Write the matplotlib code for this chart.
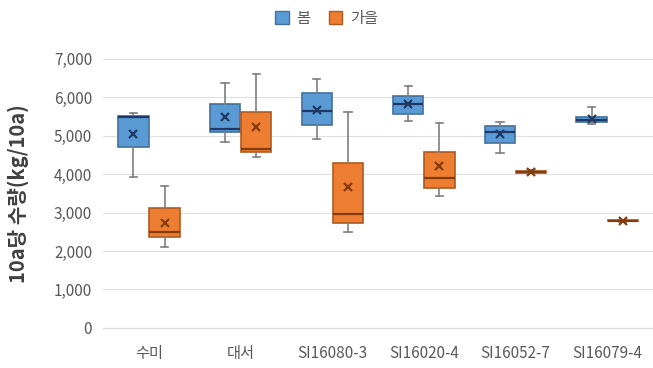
import matplotlib
matplotlib.use('Agg')
import matplotlib.pyplot as plt
from matplotlib.patches import Patch

plt.rcParams['font.family'] = ['Noto Sans CJK KR', 'DejaVu Sans']

varieties = ["수미", "대서", "SI16080-3", "SI16020-4", "SI16052-7", "SI16079-4"]
seasons = ["봄", "가을"]

# five-number summaries (kg/10a) plus mean, per variety
spring_low = [3930, 4840, 4920, 5390, 4560, 5300]
spring_q1 = [4710, 5100, 5290, 5570, 4820, 5350]
spring_med = [5500, 5180, 5650, 5830, 5100, 5420]
spring_q3 = [5520, 5830, 6120, 6040, 5260, 5500]
spring_high = [5600, 6380, 6480, 6300, 5370, 5750]
spring_mean = [5050, 5500, 5680, 5830, 5050, 5430]

autumn_low = [2110, 4450, 2500, 3440, 4020, 2760]
autumn_q1 = [2370, 4580, 2730, 3650, 4040, 2775]
autumn_med = [2500, 4660, 2970, 3910, 4060, 2785]
autumn_q3 = [3120, 5620, 4300, 4580, 4080, 2795]
autumn_high = [3700, 6610, 5620, 5340, 4100, 2810]
autumn_mean = [2730, 5230, 3670, 4220, 4060, 2785]

yticks = [0, 1000, 2000, 3000, 4000, 5000, 6000, 7000]

BLUE = "#5B9BD5"
BLUE_EDGE = "#41719C"
BLUE_DARK = "#1F3864"
ORANGE = "#ED7D31"
ORANGE_EDGE = "#AE5A21"
ORANGE_DARK = "#843C0C"


def make_stats(low, q1, med, q3, high, mean):
    stats = []
    for i in range(len(low)):
        stats.append(dict(whislo=low[i], q1=q1[i], med=med[i], q3=q3[i],
                          whishi=high[i], mean=mean[i], fliers=[]))
    return stats


def draw(ax, stats, offset, fill, edge, dark):
    pos = [i + offset for i in range(len(stats))]
    ax.bxp(stats, positions=pos, widths=0.33, patch_artist=True,
           showmeans=True, showfliers=False,
           boxprops=dict(facecolor=fill, edgecolor=edge, linewidth=1.2),
           medianprops=dict(color=dark, linewidth=1.6),
           whiskerprops=dict(color="#7F7F7F", linewidth=1.2),
           capprops=dict(color="#7F7F7F", linewidth=1.2),
           capwidths=0.08,
           meanprops=dict(marker="x", markeredgecolor=dark, markersize=6,
                          markeredgewidth=1.6),
           manage_ticks=False, zorder=3)


fig = plt.figure(figsize=(6.53, 3.68), dpi=100)
ax = fig.add_axes([0.158, 0.109, 0.842, 0.731])

draw(ax, make_stats(spring_low, spring_q1, spring_med, spring_q3, spring_high, spring_mean),
     -0.17, BLUE, BLUE_EDGE, BLUE_DARK)
draw(ax, make_stats(autumn_low, autumn_q1, autumn_med, autumn_q3, autumn_high, autumn_mean),
     0.17, ORANGE, ORANGE_EDGE, ORANGE_DARK)

ax.set_xlim(-0.5, len(varieties) - 0.5)
ax.set_ylim(0, 7000)
ax.set_yticks(yticks)
ax.set_yticklabels([f"{v:,}" for v in yticks])
ax.set_xticks(range(len(varieties)))
ax.set_xticklabels(varieties)
ax.tick_params(axis='both', length=0, labelsize=11, colors="#595959")
ax.tick_params(axis='x', pad=12)
ax.tick_params(axis='y', pad=8)
ax.grid(axis='y', color="#E0E0E0", linewidth=0.8)
ax.set_axisbelow(True)
for s in ["top", "right", "left"]:
    ax.spines[s].set_visible(False)
ax.spines["bottom"].set_color("#D9D9D9")

ax.set_ylabel("10a당 수량(kg/10a)", fontsize=14.5, fontweight='bold', color="#404040")
ax.yaxis.set_label_coords(-0.135, 0.5)

handles = [Patch(facecolor=BLUE, edgecolor=BLUE_EDGE), Patch(facecolor=ORANGE, edgecolor=ORANGE_EDGE)]
fig.legend(handles, seasons, loc="upper center", bbox_to_anchor=(0.5, 1.01), ncol=2,
           frameon=False, fontsize=11, handlelength=0.9, handleheight=0.9,
           handletextpad=0.5, columnspacing=1.2, labelcolor="#595959")

fig.savefig("out.png", dpi=100)
